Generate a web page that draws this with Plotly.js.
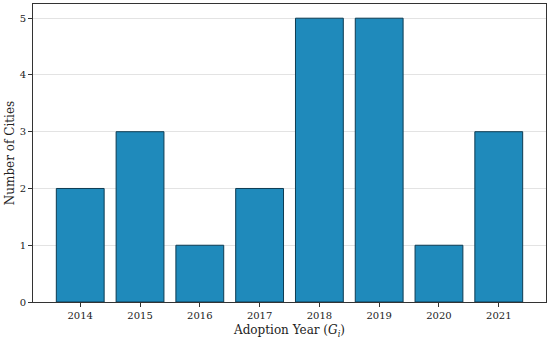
<!DOCTYPE html>
<html><head><meta charset="utf-8">
<script src="https://cdn.plot.ly/plotly-3.0.1.min.js"></script>
<style>body{margin:0;padding:0;background:#fff}#c{width:550px;height:339px}</style>
</head><body><div id="c"></div>
<script>
const years = [2014, 2015, 2016, 2017, 2018, 2019, 2020, 2021];
const cities = [2, 3, 1, 2, 5, 5, 1, 3];
const yTicks = [0, 1, 2, 3, 4, 5];

Plotly.newPlot('c', [{
  type: 'bar', x: years, y: cities, width: 0.8,
  marker: {color: '#1f8abb', line: {color: '#0d3b52', width: 1}},
  hoverinfo: 'x+y'
}], {
  width: 550, height: 339,
  margin: {l: 33, r: 4, t: 4, b: 37},
  paper_bgcolor: '#fff', plot_bgcolor: '#fff',
  font: {family: 'DejaVu Serif', size: 10, color: '#222'},
  showlegend: false,
  xaxis: {
    range: [2013.21, 2021.79], tickvals: years, ticktext: years.map(String),
    showgrid: false, zeroline: false, showline: true, mirror: true,
    linecolor: '#333', linewidth: 1, ticks: 'outside', ticklen: 4, tickcolor: '#333',
    title: {text: 'Adoption Year (<i>G<sub>i</sub></i>)', font: {size: 12}, standoff: 6}
  },
  yaxis: {
    range: [0, 5.25], tickvals: yTicks,
    showgrid: true, gridcolor: '#e3e3e3', gridwidth: 1, zeroline: false,
    showline: true, mirror: true, linecolor: '#333', linewidth: 1,
    ticks: 'outside', ticklen: 4, tickcolor: '#333',
    title: {text: 'Number of Cities', font: {size: 12}, standoff: 2}
  }
}, {displayModeBar: false, staticPlot: true});
</script></body></html>
